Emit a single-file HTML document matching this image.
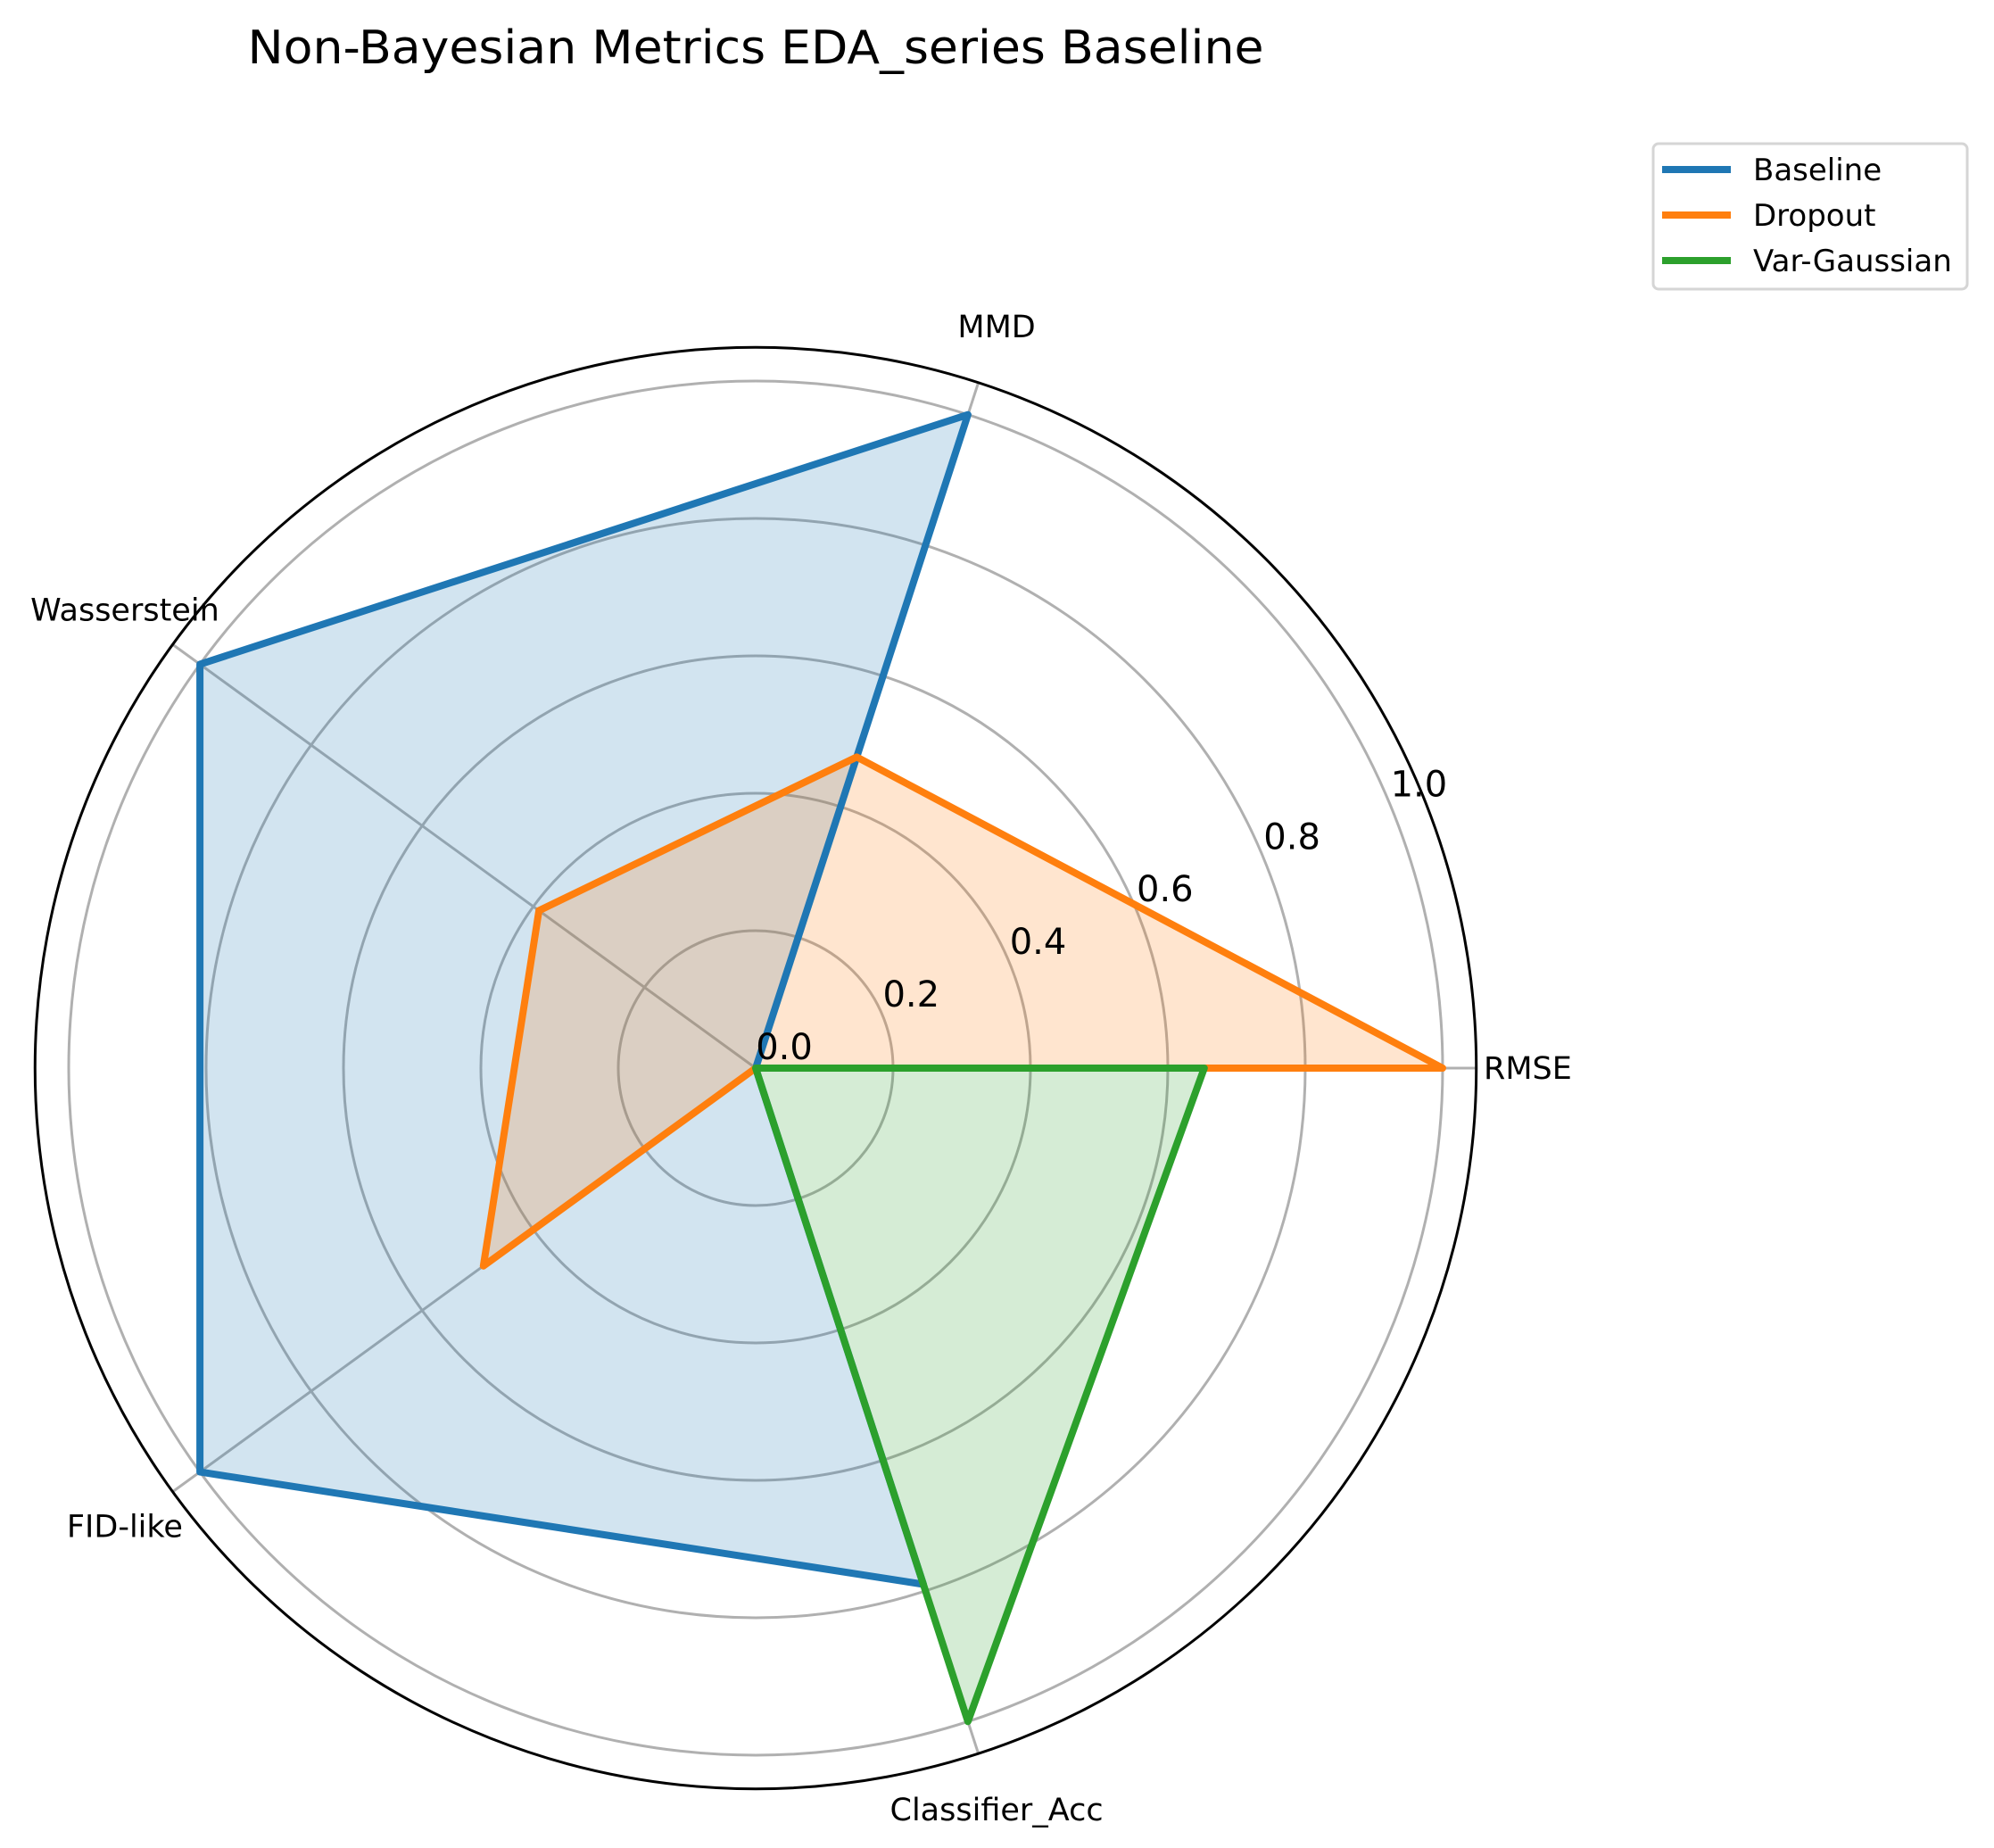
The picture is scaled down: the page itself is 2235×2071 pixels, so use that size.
<!DOCTYPE html>
<html><head><meta charset="utf-8"><style>
html,body{margin:0;padding:0;background:#fff;}
svg{display:block;font-family:"DejaVu Sans","Liberation Sans",sans-serif;}
</style></head><body>
<svg id="chart" width="2235" height="2071" viewBox="0 0 2235 2071" xmlns="http://www.w3.org/2000/svg">
<text x="847" y="71" font-size="52" text-anchor="middle" textLength="1139" lengthAdjust="spacingAndGlyphs">Non-Bayesian Metrics EDA_series Baseline</text>
<g id="grid"></g>
<g id="series"></g>
<g id="labels"></g>
<g>
<rect x="1853" y="161" width="352" height="163" rx="6" fill="#fff" stroke="#d5d5d5" stroke-width="3"/>
<g><line x1="1863" y1="190" x2="1940" y2="190" stroke="#1f77b4" stroke-width="8"/><text x="1965" y="202" font-size="34">Baseline</text></g>
<g><line x1="1863" y1="241" x2="1940" y2="241" stroke="#ff7f0e" stroke-width="8"/><text x="1965" y="253" font-size="34">Dropout</text></g>
<g><line x1="1863" y1="292" x2="1940" y2="292" stroke="#2ca02c" stroke-width="8"/><text x="1965" y="304" font-size="34">Var-Gaussian</text></g>
</g>
</svg>
<script>
const categories = ["RMSE","MMD","Wasserstein","FID-like","Classifier_Acc"];
const baseline = [0, 1.0, 1.0, 1.0, 0.79];
const dropout = [1.0, 0.476, 0.39, 0.49, 0];
const varGaussian = [0.653, 0, 0, 0, 1.0];
const rTicks = [0.2, 0.4, 0.6, 0.8, 1.0];
const rTickLabels = ["0.2","0.4","0.6","0.8","1.0"];

const NS = "http://www.w3.org/2000/svg";
const cx = 847, cy = 1197, unit = 770, rMax = 1.049;
function ang(i){ return i * 2 * Math.PI / categories.length; }
function px(v, i){ return cx + v * unit * Math.cos(ang(i)); }
function py(v, i){ return cy - v * unit * Math.sin(ang(i)); }
function mk(tag, attrs, parent){ const e = document.createElementNS(NS, tag); for (const k in attrs) e.setAttribute(k, attrs[k]); parent.appendChild(e); return e; }

const grid = document.getElementById("grid");
rTicks.forEach((t, k) => {
  const c = mk("circle", {cx: cx, cy: cy, r: t * unit, fill: "none", stroke: "#b0b0b0", "stroke-width": 3}, grid);
  
  
});
categories.forEach((c, i) => {
  const l = mk("line", {x1: cx, y1: cy, x2: px(rMax, i), y2: py(rMax, i), stroke: "#b0b0b0", "stroke-width": 3}, grid);
  
  
});
const outer = mk("circle", {cx: cx, cy: cy, r: rMax * unit, fill: "none", stroke: "#000", "stroke-width": 3}, grid);



const sg = document.getElementById("series");
const seriesList = [["baseline", baseline, "#1f77b4"], ["dropout", dropout, "#ff7f0e"], ["var-gaussian", varGaussian, "#2ca02c"]];
seriesList.forEach(s => {
  const pts = s[1].map((v, i) => px(v, i).toFixed(1) + "," + py(v, i).toFixed(1)).join(" ");
  const f = mk("polygon", {points: pts, fill: s[2], "fill-opacity": 0.2, stroke: "none"}, sg);
  
  
});
seriesList.forEach(s => {
  const pts = s[1].map((v, i) => px(v, i).toFixed(1) + "," + py(v, i).toFixed(1)).join(" ");
  const p = mk("polygon", {points: pts, fill: "none", stroke: s[2], "stroke-width": 8, "stroke-linejoin": "round"}, sg);
  
  
});

const lg = document.getElementById("labels");
const tickA = 22.5 * Math.PI / 180;
[0].concat(rTicks).forEach((t, k) => {
  const tx = mk("text", {x: cx + t * unit * Math.cos(tickA) + 32, y: cy - t * unit * Math.sin(tickA) - 10, "font-size": 40, "text-anchor": "middle"}, lg);
  tx.textContent = k === 0 ? "0.0" : rTickLabels[k - 1];
  
  
});
const labelR = 1.135;
categories.forEach((c, i) => {
  let x = px(labelR, i), y = py(labelR, i), anchor = "middle";
  if (i === 0) { x = 1663; anchor = "start"; }
  const t = mk("text", {x: x, y: y + 12, "font-size": 35, "text-anchor": anchor}, lg);
  t.textContent = c;
  
  
});
</script>
</body></html>
